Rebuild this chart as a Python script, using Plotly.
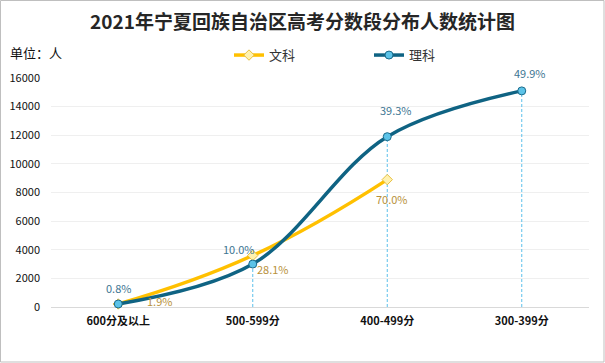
import plotly.graph_objects as go

categories = ["600分及以上", "500-599分", "400-499分", "300-399分"]
wenke = [210, 3600, 8900]
like = [210, 3000, 11900, 15100]
wenke_labels = ["1.9%", "28.1%", "70.0%"]
like_labels = ["0.8%", "10.0%", "39.3%", "49.9%"]
y_ticks = [0, 2000, 4000, 6000, 8000, 10000, 12000, 14000, 16000]

FONT = "Noto Sans CJK SC"
xs_l = list(range(len(like)))
xs_w = list(range(len(wenke)))

# label offsets (pixels) relative to the data point
like_shift = [(0, 16), (-14, 15), (9, 27), (8, 18)]
wenke_shift = [(41, 3), (20, -14), (5, -19)]

fig = go.Figure()

for i in range(1, len(like)):
    fig.add_trace(go.Scatter(
        x=[xs_l[i], xs_l[i]], y=[0, like[i]], mode="lines",
        line=dict(color="#5BC0EB", width=1, dash="3px,2px"),
        showlegend=False, hoverinfo="skip"))

fig.add_trace(go.Scatter(
    x=xs_w, y=wenke, name="文科", mode="lines+markers",
    line=dict(color="#FFC000", width=3.5, shape="spline", smoothing=1.3),
    marker=dict(symbol="diamond", size=8, color="#FFF2B0",
                line=dict(color="#E8C040", width=1)),
    cliponaxis=False))

fig.add_trace(go.Scatter(
    x=xs_l, y=like, name="理科", mode="lines+markers",
    line=dict(color="#0F6383", width=3.5, shape="spline", smoothing=1),
    marker=dict(symbol="circle", size=8, color="#5CC3E8",
                line=dict(color="#1A6A8A", width=1)),
    cliponaxis=False))

for i, (v, t) in enumerate(zip(like, like_labels)):
    fig.add_annotation(x=xs_l[i], y=v, text=t, showarrow=False,
                       xshift=like_shift[i][0], yshift=like_shift[i][1],
                       font=dict(family=FONT, size=11, color="#3D7592"))
for i, (v, t) in enumerate(zip(wenke, wenke_labels)):
    fig.add_annotation(x=xs_w[i], y=v, text=t, showarrow=False,
                       xshift=wenke_shift[i][0], yshift=wenke_shift[i][1],
                       font=dict(family=FONT, size=11, color="#B8913A"))

fig.update_layout(
    width=605, height=363,
    margin=dict(l=51, r=16, t=78, b=56, autoexpand=False),
    paper_bgcolor="white", plot_bgcolor="white",
    font=dict(family=FONT, size=11, color="#222"),
    title=dict(text="<b>2021年宁夏回族自治区高考分数段分布人数统计图</b>",
               x=0.5, xanchor="center", y=0.939, yanchor="middle",
               font=dict(family=FONT, size=19, color="#262626")),
    legend=dict(orientation="h", x=(229 - 51) / 538, xanchor="left", y=1.10, yanchor="middle",
                font=dict(family=FONT, size=13, color="#333"),
                entrywidth=95, entrywidthmode="pixels", itemwidth=30,
                bgcolor="rgba(0,0,0,0)"),
    xaxis=dict(range=[-0.5, len(categories) - 0.5], tickvals=list(range(len(categories))),
               ticktext=["<b>%s</b>" % c for c in categories], showgrid=False,
               zeroline=False, showline=False, ticks="", tickfont=dict(size=11, color="#111"),
               ticklabelstandoff=6),
    yaxis=dict(range=[0, 16000], tickvals=y_ticks, tickformat="d", showgrid=True,
               gridcolor="#EFEFEF", zeroline=True, zerolinecolor="#D9D9D9", zerolinewidth=1,
               tickfont=dict(size=11, color="#111"), ticks="", ticklabelstandoff=10),
    showlegend=True,
)

fig.add_annotation(text="单位：人", xref="paper", yref="paper", x=-0.08, y=1.113,
                   xanchor="left", yanchor="middle", showarrow=False,
                   font=dict(family=FONT, size=13, color="#111"))

fig.add_shape(type="rect", xref="paper", yref="paper", x0=-50.5/538, x1=1 + 15/538,
              y0=-55/229, y1=1 + 77.5/229, line=dict(color="#BFBFBF", width=1))

fig.write_html("out.html", post_script="document.body.style.margin='0';",
               config={"displayModeBar": False})
